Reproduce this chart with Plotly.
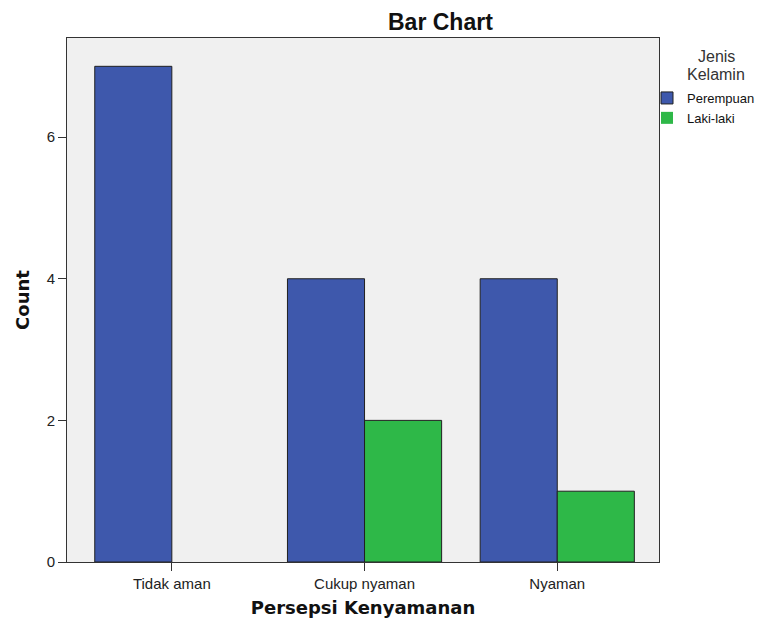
import plotly.graph_objects as go

categories = ['Tidak aman', 'Cukup nyaman', 'Nyaman']
perempuan = [7, 4, 4]
laki_laki = [0, 2, 1]

# the page body has an 8px margin, so the figure is drawn 8px in from the window corner
OFF = 8
W, H = 763 - OFF, 622 - OFF
L, R, T, B = 67 - OFF, 104, 38 - OFF, 60
PW, PH = W - L - R, H - T - B


def px(xp):   # window x -> paper x
    return (xp - OFF - L) / PW


def py(yp):   # window y -> paper y
    return 1 - (yp - OFF - T) / PH


fig = go.Figure()
fig.add_trace(go.Bar(x=categories, y=perempuan, name='Perempuan',
                     marker=dict(color='#3e58ac', line=dict(color='#202020', width=1))))
# zero-height bar is not outlined in the reference
fig.add_trace(go.Bar(x=categories, y=laki_laki, name='Laki-laki',
                     marker=dict(color='#2eb848',
                                 line=dict(color='#202020',
                                           width=[1 if v > 0 else 0 for v in laki_laki]))))

fig.update_layout(
    width=W, height=H,
    margin=dict(l=L, r=R, t=T, b=B, autoexpand=False),
    plot_bgcolor='#f0f0f0',
    paper_bgcolor='white',
    barmode='group', bargap=0.2, bargroupgap=0,
    font=dict(family='Liberation Sans, Arial', size=15, color='#222'),
    showlegend=True,
    legend=dict(
        xref='container', yref='container',
        x=(647 - OFF) / W, xanchor='left',
        y=1 - (83 - OFF) / H, yanchor='top',
        font=dict(size=13, color='#111'),
        tracegroupgap=0, itemwidth=30,
        bgcolor='rgba(0,0,0,0)',
    ),
)

fig.update_xaxes(
    range=[-0.544, 2.528], automargin=False,
    showline=True, linecolor='#333', linewidth=1, mirror=True,
    ticks='outside', ticklen=8, tickcolor='#333',
    showgrid=False,
    title=dict(text='Persepsi Kenyamanan', standoff=10,
               font=dict(family='DejaVu Sans', size=18, color='#111', weight='bold')),
)
fig.update_yaxes(
    range=[0, 7.4], tickvals=[0, 2, 4, 6], automargin=False,
    showline=True, linecolor='#333', linewidth=1, mirror=True,
    ticks='outside', ticklen=8, tickcolor='#333',
    showgrid=False, zeroline=False,
    title=dict(text='Count', standoff=12,
               font=dict(family='DejaVu Sans', size=18, color='#111', weight='bold')),
)

fig.add_annotation(text='<b>Bar Chart</b>', xref='paper', yref='paper',
                   x=px(440), y=py(22), xanchor='center', yanchor='middle',
                   showarrow=False, font=dict(family='Liberation Sans, Arial', size=23, color='#111'))

# legend title, two lines centred above the entries
for text, ypx in [('Jenis', 56), ('Kelamin', 74)]:
    fig.add_annotation(text=text, xref='paper', yref='paper',
                       x=px(716), y=py(ypx), xanchor='center', yanchor='middle',
                       showarrow=False,
                       font=dict(family='Liberation Sans, Arial', size=16, color='#333'))

fig.write_html("out.html")
